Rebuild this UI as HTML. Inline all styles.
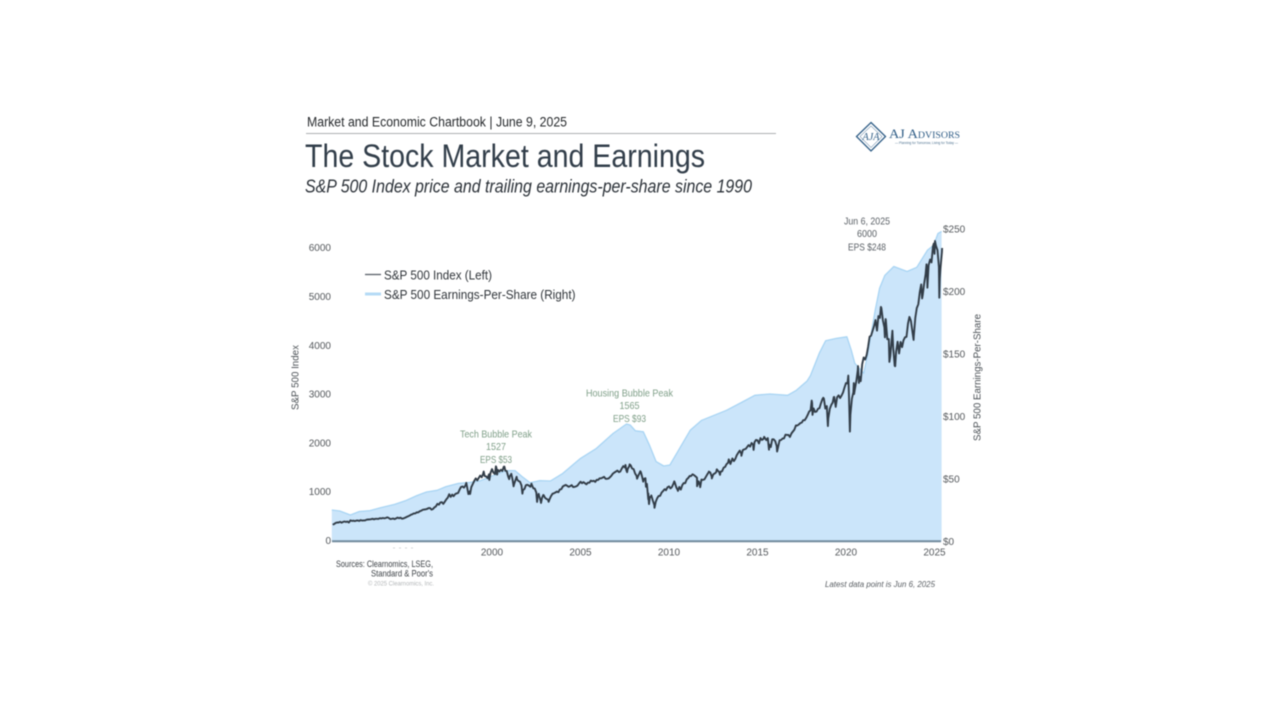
<!DOCTYPE html>
<html lang="en">
<head>
<meta charset="utf-8">
<title>The Stock Market and Earnings</title>
<style>
html,body{margin:0;padding:0;background:#fff;width:1280px;height:720px;overflow:hidden}
svg{display:block;filter:blur(.5px)}
text{font-family:"Liberation Sans",sans-serif}
</style>
</head>
<body>
<svg id="root" xmlns="http://www.w3.org/2000/svg" width="1280" height="720" viewBox="0 0 1280 720">
  <rect width="1280" height="720" fill="#fff"/>

  <text x="307" y="126.500" font-size="13.500" fill="#26292c" textLength="260" lengthAdjust="spacingAndGlyphs">Market and Economic Chartbook | June 9, 2025</text>
  <line x1="306" x2="776" y1="133.500" y2="133.500" stroke="#adb0b2" stroke-width="1"/>
  <text x="305" y="167" font-size="32" fill="#323e4a" textLength="400" lengthAdjust="spacingAndGlyphs">The Stock Market and Earnings</text>
  <text x="305" y="192.500" font-size="18" font-style="italic" fill="#2b3138" textLength="447" lengthAdjust="spacingAndGlyphs">S&amp;P 500 Index price and trailing earnings-per-share since 1990</text>

  <g>
    <path d="M871 122.500L885.500 136.500L871 151L856.500 136.500Z" fill="#fff" stroke="#2f5d86" stroke-width="1.300"/>
    <path d="M871 126L882 136.500L871 147.500L860 136.500Z" fill="none" stroke="#2f5d86" stroke-width=".5"/>
    <text x="871" y="140" font-size="10" font-style="italic" text-anchor="middle" fill="#2f5d86" style="font-family:'Liberation Serif',serif" textLength="17" lengthAdjust="spacingAndGlyphs">AJA</text>
    <text x="889" y="138" font-size="13" fill="#2f5d86" style="font-family:'Liberation Serif',serif;font-variant:small-caps" textLength="71" lengthAdjust="spacingAndGlyphs">AJ Advisors</text>
    <text x="895" y="144" font-size="3.500" fill="#4a6f8e" textLength="63" lengthAdjust="spacingAndGlyphs">— Planning for Tomorrow, Living for Today —</text>
  </g>

  <g id="plot"></g>
  <g id="axes"></g>

  <text transform="translate(298.500,377.500) rotate(-90)" font-size="10.500" text-anchor="middle" fill="#4c5257" textLength="65" lengthAdjust="spacingAndGlyphs">S&amp;P 500 Index</text>
  <text transform="translate(980.500,377.500) rotate(-90)" font-size="10.500" text-anchor="middle" fill="#4c5257" textLength="127" lengthAdjust="spacingAndGlyphs">S&amp;P 500 Earnings-Per-Share</text>

  <g>
    <line x1="365" x2="381" y1="274.500" y2="274.500" stroke="#596069" stroke-width="1.300"/>
    <text x="384" y="279.500" font-size="13" fill="#30353a" textLength="108" lengthAdjust="spacingAndGlyphs">S&amp;P 500 Index (Left)</text>
    <rect x="365" y="292.500" width="16" height="3" fill="#b5dbf6"/>
    <text x="384" y="299" font-size="13" fill="#30353a" textLength="191.500" lengthAdjust="spacingAndGlyphs">S&amp;P 500 Earnings-Per-Share (Right)</text>
  </g>

  <g fill="#7f9f88" font-size="10.500" text-anchor="middle">
    <text x="496" y="437.500" textLength="72" lengthAdjust="spacingAndGlyphs">Tech Bubble Peak</text>
    <text x="496" y="450" textLength="20" lengthAdjust="spacingAndGlyphs">1527</text>
    <text x="496" y="463" textLength="32" lengthAdjust="spacingAndGlyphs">EPS $53</text>
  </g>
  <g fill="#7f9f88" font-size="10.500" text-anchor="middle">
    <text x="629.500" y="396.500" textLength="87" lengthAdjust="spacingAndGlyphs">Housing Bubble Peak</text>
    <text x="629.500" y="409" textLength="20" lengthAdjust="spacingAndGlyphs">1565</text>
    <text x="629.500" y="422" textLength="33" lengthAdjust="spacingAndGlyphs">EPS $93</text>
  </g>
  <g fill="#5a6066" font-size="10.500" text-anchor="middle">
    <text x="867" y="224.500" textLength="46" lengthAdjust="spacingAndGlyphs">Jun 6, 2025</text>
    <text x="867" y="237" textLength="20" lengthAdjust="spacingAndGlyphs">6000</text>
    <text x="867" y="250.500" textLength="38" lengthAdjust="spacingAndGlyphs">EPS $248</text>
  </g>

  <line x1="393" x2="413" y1="548" y2="548" stroke="#d4d6d8" stroke-width="1" stroke-dasharray="2 4"/>
  <text x="336" y="567" font-size="9.500" fill="#3a3f44" textLength="97" lengthAdjust="spacingAndGlyphs">Sources: Clearnomics, LSEG,</text>
  <text x="433" y="576.500" font-size="9.500" fill="#3a3f44" text-anchor="end" textLength="62" lengthAdjust="spacingAndGlyphs">Standard &amp; Poor's</text>
  <text x="434" y="585.500" font-size="6.500" fill="#b3b6b8" text-anchor="end" textLength="66" lengthAdjust="spacingAndGlyphs">© 2025 Clearnomics, Inc.</text>
  <text x="825" y="587" font-size="8.500" font-style="italic" fill="#585d62" textLength="110" lengthAdjust="spacingAndGlyphs">Latest data point is Jun 6, 2025</text>
</svg>

<script>
const leftTicks = [0, 1000, 2000, 3000, 4000, 5000, 6000];
const rightTicks = [0, 50, 100, 150, 200, 250];
const xTicks = [2000, 2005, 2010, 2015, 2020, 2025];

const epsYears = [1990.95,1991.4,1992,1992.5,1993.1,1993.7,1994.5,1995.1,1995.75,1996.3,1996.9,1997.4,1998.1,1998.75,1999.3,2000.1,2000.8,2001.3,2001.7,2002.15,2002.7,2003.3,2004,2005,2005.9,2006.85,2007.6,2007.8,2008.1,2008.55,2008.9,2009.27,2009.7,2010.05,2010.6,2011.2,2011.85,2013.25,2014.2,2014.85,2015.7,2016.7,2017.2,2017.8,2018,2018.5,2018.85,2019.45,2020.05,2020.3,2020.5,2021,2021.2,2021.65,2021.9,2022.2,2022.7,2023.45,2024,2024.6,2024.95,2025.2,2025.4];
const epsValues = [25.2,24.4,21.2,24,24.7,27,29.7,32.6,36.7,39.6,41,43.9,46.5,47.3,48.4,53,56.7,56.7,51.9,47,48.7,48.4,54.5,66.5,74.5,86.5,94,93.2,88.6,87.8,77,63.9,60.4,61.2,74.5,89,97,105,112,117,118,117,121,128.4,133,151,160.6,162.5,163.8,153,142.6,134.6,147.8,185,202.6,213,220,216,219.4,233,237,246.5,248];

const spxStartYear = 1991;
const spxMonthly = [330.2,
343.9,367.1,375.2,375.3,389.8,371.2,387.8,395.4,387.9,392.5,375.2,417.1,
408.8,412.7,403.7,414.9,415.4,408.1,424.2,414.0,417.8,418.7,431.4,435.7,
438.8,443.4,451.7,440.2,450.2,450.5,448.1,463.6,458.9,467.8,461.8,466.5,
481.6,467.1,445.8,450.9,456.5,444.3,458.3,475.5,462.7,472.4,453.7,459.3,
470.4,487.4,500.7,514.7,533.4,544.8,562.1,561.9,584.4,581.5,605.4,615.9,
636.0,640.4,645.5,654.2,669.1,670.6,639.9,652.0,687.3,705.3,757.0,740.7,
786.2,790.8,757.1,801.3,848.3,885.1,954.3,899.5,947.3,914.6,955.4,970.4,
980.3,1049.3,1101.8,1111.8,1090.8,1133.8,1120.7,957.3,1017.0,1098.7,1163.6,1229.2,
1279.6,1238.3,1286.4,1335.2,1301.8,1372.7,1328.7,1320.4,1282.7,1362.9,1388.9,1469.3,
1394.5,1366.4,1498.6,1452.4,1420.6,1454.6,1430.8,1517.7,1436.5,1429.4,1314.9,1320.3,
1366.0,1239.9,1160.3,1249.5,1255.8,1224.4,1211.2,1133.6,1040.9,1059.8,1139.5,1148.1,
1130.2,1106.7,1147.4,1076.9,1067.1,989.8,911.6,916.1,815.3,885.8,936.3,879.8,
855.7,841.2,849.2,916.9,963.6,974.5,990.3,1008.0,996.0,1050.7,1058.2,1111.9,
1131.1,1144.9,1126.2,1107.3,1120.7,1140.8,1101.7,1104.2,1114.6,1130.2,1173.8,1211.9,
1181.3,1203.6,1180.6,1156.9,1191.5,1191.3,1234.2,1220.3,1228.8,1207.0,1249.5,1248.3,
1280.1,1280.7,1294.9,1310.6,1270.1,1270.2,1276.7,1303.8,1335.9,1377.9,1400.6,1418.3,
1438.2,1406.8,1420.9,1482.4,1530.6,1503.4,1455.3,1474.0,1526.8,1549.4,1481.1,1468.4,
1378.6,1330.6,1322.7,1385.6,1400.4,1280.0,1267.4,1282.8,1166.4,968.8,896.2,903.3,
825.9,735.1,797.9,872.8,919.1,919.3,987.5,1020.6,1057.1,1036.2,1095.6,1115.1,
1073.9,1104.5,1169.4,1186.7,1089.4,1030.7,1101.6,1049.3,1141.2,1183.3,1180.6,1257.6,
1286.1,1327.2,1325.8,1363.6,1345.2,1320.6,1292.3,1218.9,1131.4,1253.3,1247.0,1257.6,
1312.4,1365.7,1408.5,1397.9,1310.3,1362.2,1379.3,1406.6,1440.7,1412.2,1416.2,1426.2,
1498.1,1514.7,1569.2,1597.6,1630.7,1606.3,1685.7,1633.0,1681.6,1756.5,1805.8,1848.4,
1782.6,1859.5,1872.3,1884.0,1923.6,1960.2,1930.7,2003.4,1972.3,2018.1,2067.6,2058.9,
1995.0,2104.5,2067.9,2085.5,2107.4,2063.1,2103.8,1972.2,1920.0,2079.4,2080.4,2043.9,
1940.2,1932.2,2059.7,2065.3,2097.0,2098.9,2173.6,2171.0,2168.3,2126.2,2199.0,2238.8,
2278.9,2363.6,2362.7,2384.2,2411.8,2423.4,2470.3,2471.7,2519.4,2575.3,2647.6,2673.6,
2823.8,2713.8,2640.9,2648.1,2705.3,2718.4,2816.3,2901.5,2914.0,2711.7,2760.2,2506.9,
2704.1,2784.5,2834.4,2945.8,2752.1,2941.8,2980.4,2926.5,2976.7,3037.6,3141.0,3230.8,
3225.5,2954.2,2584.6,2912.4,3044.3,3100.3,3271.1,3500.3,3363.0,3270.0,3621.6,3756.1,
3714.2,3811.2,3972.9,4181.2,4204.1,4297.5,4395.3,4522.7,4307.5,4605.4,4567.0,4766.2,
4515.6,4373.9,4530.4,4131.9,4132.2,3785.4,4130.3,3955.0,3585.6,3872.0,4080.1,3839.5,
4076.6,3970.2,4109.3,4169.5,4179.8,4450.4,4589.0,4507.7,4288.1,4193.8,4567.8,4769.8,
4845.7,5096.3,5254.4,5035.7,5277.5,5460.5,5522.3,5648.4,5762.5,5705.5,6032.4,5881.6,
6040.5,5954.5,5611.9,5569.1,5911.7];

const swingYears = [1998.55,1998.76,1999.53,1999.85,2000.22,2000.29,2000.7,2000.97,2001.09,2001.22,2001.39,2001.72,2002.23,2002.55,2002.64,2002.77,2002.9,2003.2,2007.54,2007.63,2007.78,2008.2,2008.38,2008.54,2008.7,2008.83,2008.87,2009.0,2009.18,2010.3,2010.5,2011.33,2011.59,2011.68,2011.76,2012.25,2012.42,2012.7,2012.88,2013.38,2013.47,2014.09,2014.78,2015.38,2015.65,2016.11,2018.06,2018.11,2018.72,2018.98,2019.31,2019.42,2020.13,2020.22,2020.44,2020.46,2020.68,2020.73,2021.97,2022.2,2022.24,2022.45,2022.62,2022.78,2022.92,2023.82,2024.3,2024.55,2024.6,2024.96,2025.03,2025.27,2025.3,2025.43];
const swingValues = [1186,959,1418,1247,1527,1356,1520,1264,1373,1117,1312,965,1170,797,962,776,938,800,1553,1406,1565,1273,1426,1214,1106,848,752,931,676,1217,1022,1363,1119,1216,1099,1419,1278,1465,1353,1669,1573,1741,1862,2130,1867,1829,2872,2581,2930,2351,2945,2744,3386,2237,3232,3009,3580,3236,4793,4170,4543,3667,4305,3577,4071,4117,4967,5667,5186,6090,6144,4982,5375,6000];

const NS = 'http://www.w3.org/2000/svg';
const plot = document.getElementById('plot');
const axes = document.getElementById('axes');

function xScale(year) { return 492 + (year - 2000) * 17.7; }
function yLeft(v) { return 540.8 - v * 0.0488; }
function yRight(v) { return 541.5 - v * 1.25; }

function make(tag, attrs) {
  const el = document.createElementNS(NS, tag);
  for (const k in attrs) el.setAttribute(k, attrs[k]);
  return el;
}

const epsPts = epsYears.map((y, i) => xScale(y).toFixed(1) + ' ' + yRight(epsValues[i]).toFixed(1));
const firstX = xScale(epsYears[0]).toFixed(1);
const lastX = xScale(epsYears[epsYears.length - 1]).toFixed(1);

const epsArea = make('path', { d: 'M' + firstX + ' ' + yRight(0) + 'L' + epsPts.join('L') + 'L' + lastX + ' ' + yRight(0) + 'Z', fill: '#cbe5fa' });


plot.appendChild(epsArea);

const epsLine = make('path', { d: 'M' + epsPts.join('L'), fill: 'none', stroke: '#a9d5f4', 'stroke-width': 1.3, 'stroke-linejoin': 'round' });


plot.appendChild(epsLine);

const spxPoints = spxMonthly.map((v, i) => [spxStartYear + i / 12, v])
  .concat(swingYears.map((y, i) => [y, swingValues[i]]))
  .sort((a, b) => a[0] - b[0]);
const spxLine = make('path', {
  d: 'M' + spxPoints.map(p => xScale(p[0]).toFixed(1) + ' ' + yLeft(p[1]).toFixed(1)).join('L'),
  fill: 'none', stroke: '#323d48', 'stroke-width': 1.9, 'stroke-linejoin': 'round'
});


plot.appendChild(spxLine);

const baseline = make('line', { x1: 332, x2: 941, y1: 541.2, y2: 541.2, stroke: '#71899c', 'stroke-width': 2 });


axes.appendChild(baseline);

leftTicks.forEach(v => {
  const t = make('text', { x: 331, y: yLeft(v) + 3.2, 'font-size': 10, 'text-anchor': 'end', fill: '#55595d' });
  
  
  t.textContent = String(v);
  axes.appendChild(t);
});
rightTicks.forEach(v => {
  const t = make('text', { x: 943, y: yRight(v) + 3.4, 'font-size': 10, fill: '#55595d' });
  
  
  t.textContent = '$' + v;
  axes.appendChild(t);
});
xTicks.forEach(v => {
  const t = make('text', { x: xScale(v), y: 555.3, 'font-size': 10, 'text-anchor': 'middle', fill: '#55595d' });
  
  
  t.textContent = String(v);
  axes.appendChild(t);
});
</script>
</body>
</html>
